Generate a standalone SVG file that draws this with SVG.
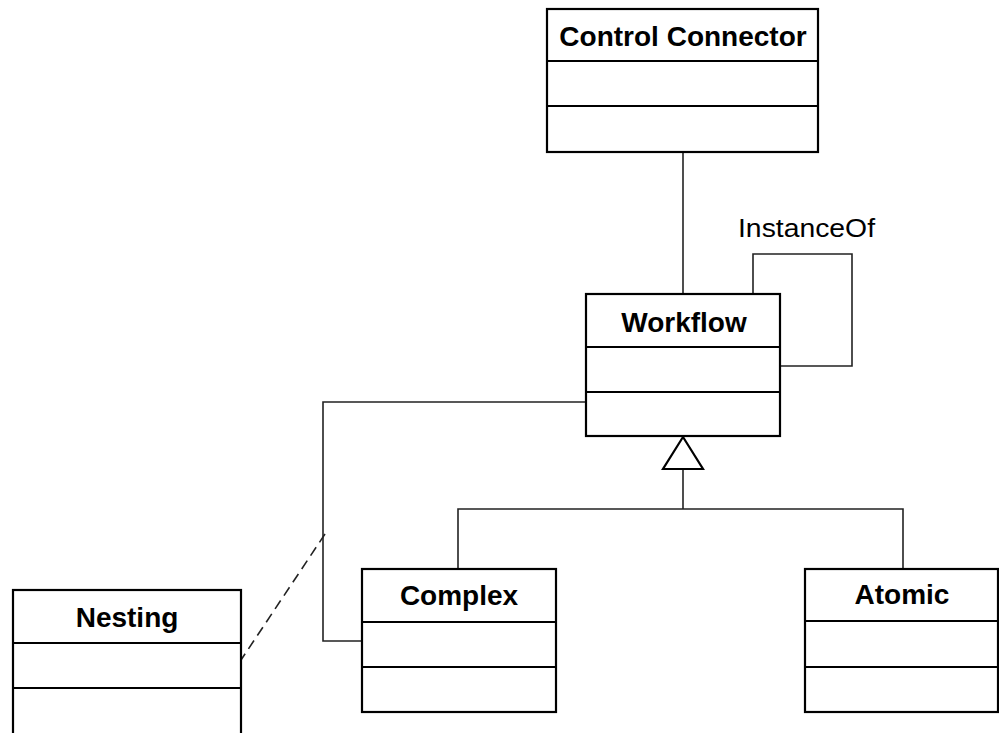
<svg xmlns="http://www.w3.org/2000/svg" width="999" height="733" viewBox="0 0 999 733">
  <style>
    .box { fill: #ffffff; stroke: #000000; stroke-width: 2.2; }
    .div { stroke: #000000; stroke-width: 2.2; fill: none; }
    .name { font-family: "Liberation Sans", Arial, sans-serif; font-weight: bold; font-size: 28px; text-anchor: middle; fill: #000000; }
    .label { font-family: "Liberation Sans", Arial, sans-serif; font-size: 26px; fill: #000000; }
    .conn { stroke: #222222; stroke-width: 1.6; fill: none; }
    .dash { stroke: #222222; stroke-width: 1.6; fill: none; stroke-dasharray: 10 6; }
    .tri { fill: #ffffff; stroke: #000000; stroke-width: 2.2; }
  </style>

  <rect width="999" height="733" fill="#ffffff"/>

  <g id="connectors">
    <!-- association: Control Connector to Workflow -->
    <line class="conn" x1="683" y1="152" x2="683" y2="294"/>
    <!-- InstanceOf self-association -->
    <polyline class="conn" points="753,294 753,254 852,254 852,366 780,366"/>
    <!-- Workflow to Complex -->
    <polyline class="conn" points="586,402 323,402 323,641 362,641"/>
    <!-- Nesting association class link -->
    <line class="dash" x1="325" y1="534" x2="241" y2="660"/>
    <!-- generalization tree -->
    <line class="conn" x1="683" y1="469" x2="683" y2="509"/>
    <polyline class="conn" points="458,568 458,509 903,509 903,568"/>
    <polygon class="tri" points="683,437 663,469 703,469"/>
    <text class="label" x="738" y="237" textLength="137" lengthAdjust="spacingAndGlyphs">InstanceOf</text>
  </g>

  <g id="control-connector">
    <rect class="box" x="547" y="9" width="271" height="143"/>
    <line class="div" x1="547" y1="61" x2="818" y2="61"/>
    <line class="div" x1="547" y1="106" x2="818" y2="106"/>
    <text class="name" x="683" y="46">Control Connector</text>
  </g>

  <g id="workflow">
    <rect class="box" x="586" y="294" width="194" height="142"/>
    <line class="div" x1="586" y1="347" x2="780" y2="347"/>
    <line class="div" x1="586" y1="392" x2="780" y2="392"/>
    <text class="name" x="684" y="332">Workflow</text>
  </g>

  <g id="nesting">
    <rect class="box" x="13" y="590" width="228" height="145"/>
    <line class="div" x1="13" y1="643" x2="241" y2="643"/>
    <line class="div" x1="13" y1="688" x2="241" y2="688"/>
    <text class="name" x="127" y="627">Nesting</text>
  </g>

  <g id="complex">
    <rect class="box" x="362" y="569" width="194" height="143"/>
    <line class="div" x1="362" y1="622" x2="556" y2="622"/>
    <line class="div" x1="362" y1="667" x2="556" y2="667"/>
    <text class="name" x="459" y="605">Complex</text>
  </g>

  <g id="atomic">
    <rect class="box" x="805" y="569" width="193" height="143"/>
    <line class="div" x1="805" y1="621" x2="998" y2="621"/>
    <line class="div" x1="805" y1="667" x2="998" y2="667"/>
    <text class="name" x="902" y="604">Atomic</text>
  </g>
</svg>
